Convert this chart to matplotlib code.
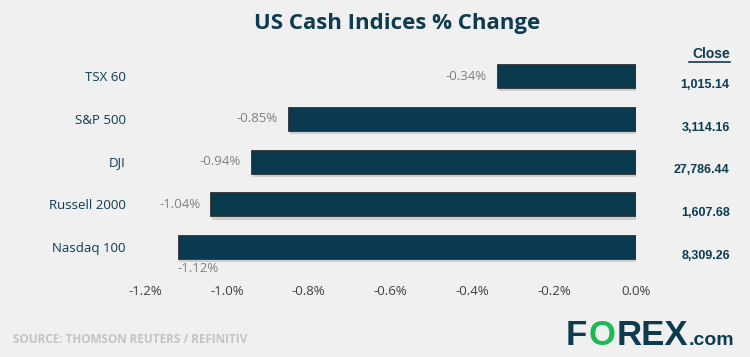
import matplotlib.pyplot as plt
import numpy as np

indices = ['TSX 60', 'S&P 500', 'DJI', 'Russell 2000', 'Nasdaq 100']
changes = [-0.34, -0.85, -0.94, -1.04, -1.12]
closes = ['1,015.14', '3,114.16', '27,786.44', '1,607.68', '8,309.26']
xticks = [-1.2, -1.0, -0.8, -0.6, -0.4, -0.2, 0.0]

bg = '#f0f0f0'
navy = '#0b3a4e'

fig = plt.figure(figsize=(7.5, 3.57), dpi=100, facecolor=bg)
ax = fig.add_axes([0.1933, 0.248, 0.6547, 0.599], facecolor=bg)

y = np.arange(len(indices))
# shadow under the bars
ax.barh(y + 0.08, changes, height=0.56, left=0.004, color='#b8b8b8', alpha=0.6, zorder=1)
ax.barh(y, changes, height=0.56, color=navy, edgecolor='#333333', linewidth=0.6, zorder=2)

for i, v in enumerate(changes):
    if i == len(changes) - 1:
        ax.text(v, i + 0.5, f'{v:.2f}%', ha='left', va='center', color='#808080',
                fontsize=9.5, family='Open Sans')
    else:
        ax.text(v - 0.025, i, f'{v:.2f}%', ha='right', va='center', color='#808080',
                fontsize=9.5, family='Open Sans')

ax.set_xlim(-1.2, 0.0)
ax.set_ylim(len(indices) - 0.5, -0.5)
ax.set_xticks(xticks)
ax.set_xticklabels([f'{t:.1f}%' for t in xticks], fontsize=9.5, color='#404040', family='Open Sans')
ax.set_yticks(y)
ax.set_yticklabels(indices, fontsize=9.5, color='#0d3b4f', family='Open Sans')
ax.tick_params(axis='both', length=0)
ax.tick_params(axis='x', pad=12)
ax.tick_params(axis='y', pad=14)
for s in ax.spines.values():
    s.set_visible(False)

# close column
fig.text(0.973, 0.848, 'Close', ha='right', va='center', fontsize=10, fontweight='bold',
         color='#0d3b4f', family='Liberation Sans')
fig.add_artist(plt.Line2D([0.919, 0.973], [0.825, 0.825], color='#0d3b4f', linewidth=1.2))
for i, c in enumerate(closes):
    yy = ax.transData.transform((0, i))[1]
    yf = fig.transFigure.inverted().transform((0, yy))[1]
    fig.text(0.973, yf - 0.025, c, ha='right', va='center', fontsize=9, fontweight='bold',
             color='#0d3b4f', family='Liberation Sans')

fig.text(0.53, 0.935, 'US Cash Indices % Change', ha='center', va='center', fontsize=16,
         fontweight='bold', color='#0d3b4f', family='Open Sans')

fig.text(0.017, 0.05, 'SOURCE: THOMSON REUTERS / REFINITIV', ha='left', va='center',
         fontsize=8.5, fontweight='bold', color='#c4c4c4', family='Open Sans')

# logo, pieces placed one after another
renderer = fig.canvas.get_renderer()
x = 566
for txt, col, size in [('F', '#0d3b4f', 25), ('O', '#1db954', 25),
                       ('REX', '#0d3b4f', 25), ('.com', '#0d3b4f', 14)]:
    t = fig.text(x / 750, (357 - 345) / 357, txt, ha='left', va='baseline',
                 fontsize=size, fontweight='bold', color=col, family='Liberation Sans')
    bb = t.get_window_extent(renderer)
    x = bb.x1 + 1

fig.savefig('out.png', dpi=100, facecolor=bg)
